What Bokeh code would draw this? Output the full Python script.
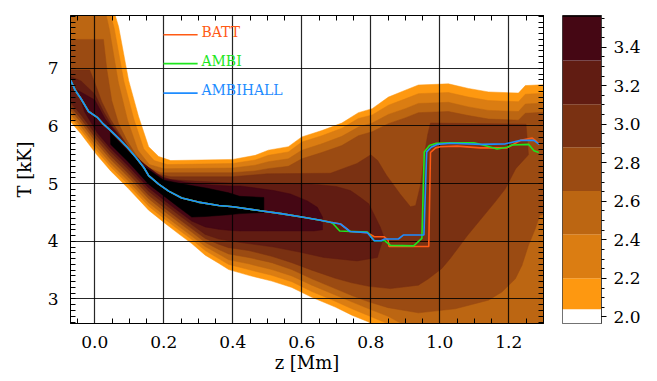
from bokeh.plotting import figure
from bokeh.models import Range1d, LinearAxis, FixedTicker, PrintfTickFormatter
from bokeh.layouts import row
from bokeh.embed import file_html
from bokeh.resources import INLINE
from bokeh.core.properties import value

FONT = "DejaVu Serif"

# ---------------- data ----------------
# contour levels of the colour scale (log10 of counts)
level_edges = [1.966, 2.040, 2.201, 2.429, 2.653, 2.880, 3.103, 3.331, 3.564]
level_colors = ["#ffffff", "#fe9810", "#db7d12", "#bc6612", "#9b4b12",
                "#7a3112", "#611c12", "#450714"]
core_color = "#000000"
cbar_ticks = [2.0, 2.2, 2.4, 2.6, 2.8, 3.0, 3.2, 3.4]

# filled-contour regions (z [Mm], T [kK]) for each level, outermost first
lev1_z = [-0.08, 0.055, 0.069, 0.098, 0.127, 0.156, 0.185, 0.22, 0.40, 0.465, 0.503, 0.561, 0.60, 0.658, 0.716, 0.764, 0.804, 0.851, 0.90, 0.938, 1.025, 1.083, 1.141, 1.228, 1.248, 1.35,
          1.35, 0.82,
          0.81, 0.794, 0.745, 0.697, 0.629, 0.571, 0.513, 0.446, 0.388, 0.359, 0.320, 0.281, 0.243, 0.204, 0.156, 0.098, 0.046, 0.007, -0.041, -0.08]
lev1_T = [8.0, 8.0, 7.72, 6.79, 6.16, 5.64, 5.47, 5.40, 5.42, 5.49, 5.58, 5.64, 5.81, 5.92, 6.05, 6.23, 6.30, 6.50, 6.62, 6.71, 6.73, 6.65, 6.59, 6.57, 6.70, 6.73,
          2.0, 2.0,
          2.50, 2.60, 2.72, 2.86, 3.03, 3.20, 3.31, 3.41, 3.51, 3.62, 3.76, 3.96, 4.13, 4.31, 4.54, 4.91, 5.22, 5.49, 5.87, 6.14]

lev2_z = [-0.08, 0.043, 0.056, 0.084, 0.113, 0.142, 0.172, 0.21, 0.40, 0.465, 0.503, 0.561, 0.60, 0.658, 0.716, 0.764, 0.804, 0.851, 0.90, 0.938, 1.025, 1.083, 1.141, 1.228, 1.248, 1.35,
          1.35, 0.86,
          0.85, 0.794, 0.745, 0.697, 0.629, 0.571, 0.513, 0.446, 0.388, 0.359, 0.320, 0.281, 0.243, 0.204, 0.156, 0.098, 0.046, 0.007, -0.041, -0.08]
lev2_T = [8.0, 8.0, 7.70, 6.78, 6.12, 5.60, 5.40, 5.33, 5.35, 5.41, 5.49, 5.55, 5.72, 5.83, 5.96, 6.13, 6.19, 6.36, 6.47, 6.56, 6.58, 6.50, 6.44, 6.42, 6.55, 6.58,
          2.0, 2.0,
          2.57, 2.71, 2.83, 2.96, 3.13, 3.30, 3.41, 3.51, 3.60, 3.70, 3.84, 4.03, 4.20, 4.38, 4.61, 4.98, 5.29, 5.56, 5.94, 6.21]

lev3_z = [-0.08, 0.030, 0.042, 0.068, 0.095, 0.125, 0.158, 0.20, 0.40, 0.465, 0.503, 0.561, 0.60, 0.658, 0.716, 0.764, 0.804, 0.851, 0.90, 0.938, 1.025, 1.083, 1.141, 1.228, 1.248, 1.35,
          1.35, 0.90,
          0.89, 0.85, 0.794, 0.745, 0.697, 0.629, 0.571, 0.513, 0.446, 0.388, 0.359, 0.320, 0.281, 0.243, 0.204, 0.156, 0.098, 0.046, 0.007, -0.041, -0.08]
lev3_T = [8.0, 8.0, 7.68, 6.76, 6.10, 5.58, 5.33, 5.26, 5.27, 5.32, 5.38, 5.43, 5.58, 5.69, 5.82, 5.98, 6.05, 6.20, 6.30, 6.39, 6.41, 6.33, 6.27, 6.25, 6.38, 6.41,
          2.0, 2.0,
          2.57, 2.70, 2.83, 2.95, 3.07, 3.24, 3.40, 3.51, 3.61, 3.68, 3.78, 3.91, 4.09, 4.26, 4.44, 4.67, 5.04, 5.35, 5.62, 6.00, 6.27]

lev4_z = [-0.08, 0.025, 0.035, 0.049, 0.069, 0.093, 0.117, 0.146, 0.19, 0.40, 0.465, 0.503, 0.561, 0.60, 0.658, 0.716, 0.764, 0.804, 0.851, 0.90, 0.938, 1.025, 1.083, 1.141, 1.228, 1.248, 1.35,
          1.35, 1.29, 1.277, 1.257, 1.238, 1.219, 1.18, 1.141, 1.045, 0.938, 0.85,
          0.794, 0.745, 0.697, 0.629, 0.571, 0.513, 0.446, 0.388, 0.359, 0.320, 0.281, 0.243, 0.204, 0.156, 0.098, 0.046, 0.007, -0.041, -0.08]
lev4_T = [7.50, 7.50, 6.97, 6.44, 6.04, 5.75, 5.52, 5.30, 5.19, 5.19, 5.22, 5.26, 5.30, 5.43, 5.54, 5.66, 5.83, 5.90, 6.04, 6.14, 6.23, 6.25, 6.18, 6.12, 6.10, 6.22, 6.25,
          4.55, 4.45, 4.22, 3.93, 3.58, 3.35, 3.12, 2.98, 2.83, 2.76, 2.85,
          2.95, 3.06, 3.18, 3.35, 3.51, 3.63, 3.72, 3.78, 3.86, 3.98, 4.16, 4.33, 4.51, 4.74, 5.11, 5.42, 5.69, 6.07, 6.34]

lev5_z = [-0.08, -0.015, 0.0, 0.02, 0.045, 0.07, 0.10, 0.13, 0.17, 0.22, 0.40, 0.50, 0.683, 0.76, 0.80, 0.82, 0.845, 0.885, 0.915, 0.93, 0.945, 0.955, 0.965, 0.973, 1.25,
          1.257, 1.22, 1.19, 1.16, 1.12, 1.08, 1.03, 1.006, 0.967, 0.938, 0.857,
          0.794, 0.745, 0.697, 0.629, 0.571, 0.513, 0.446, 0.388, 0.359, 0.320, 0.281, 0.243, 0.204, 0.156, 0.098, 0.046, 0.007, -0.041, -0.08]
lev5_T = [6.97, 6.97, 6.75, 6.42, 6.12, 5.88, 5.60, 5.38, 5.18, 5.12, 5.12, 5.17, 5.18, 5.35, 5.50, 5.40, 5.15, 4.82, 4.60, 4.62, 5.00, 5.50, 5.85, 6.05, 6.03,
          5.50, 5.26, 4.91, 4.68, 4.39, 4.10, 3.70, 3.53, 3.35, 3.24, 3.18,
          3.22, 3.28, 3.36, 3.50, 3.63, 3.74, 3.84, 3.89, 3.95, 4.05, 4.22, 4.39, 4.57, 4.80, 5.17, 5.48, 5.75, 6.13, 6.40]

lev6_z = [-0.08, -0.04, 0.0, 0.025, 0.05, 0.08, 0.11, 0.14, 0.18, 0.22, 0.30, 0.40, 0.62, 0.70, 0.741, 0.77, 0.794, 0.809, 0.828, 0.838,
          0.828, 0.819, 0.76, 0.664, 0.596, 0.519, 0.422, 0.388, 0.359, 0.320, 0.281, 0.243, 0.204, 0.156, 0.098, 0.046, 0.007, -0.041, -0.08]
lev6_T = [6.88, 6.78, 6.55, 6.25, 6.00, 5.78, 5.52, 5.36, 5.15, 5.07, 5.04, 5.01, 5.00, 4.95, 4.88, 4.76, 4.65, 4.47, 4.24, 4.07,
          3.90, 3.72, 3.66, 3.72, 3.81, 3.90, 3.98, 4.01, 4.04, 4.12, 4.29, 4.46, 4.64, 4.87, 5.24, 5.55, 5.82, 6.20, 6.47]

lev7_z = [-0.05, 0.0, 0.03, 0.06, 0.094, 0.142, 0.20, 0.268, 0.326, 0.388, 0.422, 0.519, 0.567, 0.616, 0.645, 0.66,
          0.66, 0.635, 0.50, 0.422, 0.388, 0.359, 0.320, 0.281, 0.243, 0.204, 0.156, 0.098, 0.046, 0.007, -0.03]
lev7_T = [6.62, 6.45, 6.12, 5.90, 5.62, 5.34, 5.09, 5.02, 4.98, 4.96, 4.96, 4.88, 4.82, 4.70, 4.59, 4.42,
          4.20, 4.18, 4.18, 4.18, 4.19, 4.21, 4.25, 4.35, 4.52, 4.70, 4.93, 5.30, 5.61, 5.88, 6.25]

core_z = [0.045, 0.094, 0.142, 0.20, 0.268, 0.326, 0.388, 0.42, 0.49,
          0.49, 0.42, 0.388, 0.320, 0.281, 0.243, 0.204, 0.156, 0.098, 0.046]
core_T = [5.88, 5.58, 5.30, 5.06, 4.98, 4.92, 4.84, 4.78, 4.76,
          4.50, 4.48, 4.46, 4.43, 4.42, 4.59, 4.77, 4.99, 5.37, 5.68]

# mean temperature curves
common_z = [-0.07, -0.057, -0.041, -0.018, 0.007, 0.025, 0.046, 0.07, 0.094, 0.12, 0.142, 0.156, 0.185, 0.214, 0.252, 0.30, 0.359, 0.40, 0.48, 0.54, 0.60, 0.65, 0.683]
common_T = [6.79, 6.62, 6.48, 6.25, 6.15, 6.03, 5.92, 5.78, 5.63, 5.45, 5.28, 5.14, 4.99, 4.87, 4.75, 4.68, 4.62, 4.60, 4.53, 4.48, 4.42, 4.37, 4.33]

batt_z = common_z + [0.712, 0.74, 0.79, 0.81, 0.838, 0.85, 0.853, 0.968, 0.973, 0.988, 1.002, 1.05, 1.118, 1.195, 1.234, 1.268, 1.277, 1.288]
batt_T = common_T + [4.30, 4.17, 4.15, 4.08, 4.08, 4.02, 3.91, 3.91, 5.54, 5.62, 5.64, 5.65, 5.62, 5.62, 5.75, 5.79, 5.75, 5.68]

ambi_z = common_z + [0.69, 0.71, 0.79, 0.81, 0.84, 0.857, 0.924, 0.948, 0.955, 0.97, 0.99, 1.03, 1.099, 1.12, 1.166, 1.195, 1.21, 1.258, 1.273, 1.287]
ambi_T = common_T + [4.31, 4.18, 4.16, 4.01, 4.01, 3.93, 3.92, 4.05, 5.55, 5.66, 5.70, 5.71, 5.71, 5.68, 5.60, 5.63, 5.67, 5.68, 5.57, 5.54]

hall_z = common_z + [0.712, 0.74, 0.79, 0.81, 0.83, 0.84, 0.88, 0.895, 0.954, 0.962, 0.975, 0.992, 1.031, 1.12, 1.19, 1.234, 1.273, 1.288]
hall_T = common_T + [4.30, 4.17, 4.15, 4.01, 4.01, 4.04, 4.04, 4.11, 4.11, 5.55, 5.63, 5.68, 5.70, 5.68, 5.69, 5.75, 5.75, 5.68]

series_names = ["BATT", "AMBI", "AMBIHALL"]
series_colors = ["#ff5a14", "#1ee61e", "#1e8cff"]
legend_T = [7.58, 7.08, 6.57]
legend_z = [0.199, 0.298, 0.309]

x_ticks = [0.0, 0.2, 0.4, 0.6, 0.8, 1.0, 1.2]
x_minor = [-0.05, 0.05, 0.1, 0.15, 0.25, 0.3, 0.35, 0.45, 0.5, 0.55, 0.65, 0.7, 0.75, 0.85, 0.9, 0.95, 1.05, 1.1, 1.15, 1.25, 1.3]
y_ticks = [3, 4, 5, 6, 7]
y_minor = [round(2.6 + 0.1 * i, 1) for i in range(54)]
cb_minor = [round(1.95 + 0.05 * i, 2) for i in range(33)]
x_title = "z [Mm]"
y_title = "T [kK]"

# ---------------- main figure ----------------
p = figure(width=549, height=381, output_backend="svg", toolbar_location=None,
           x_range=Range1d(-0.0705, 1.3006), y_range=Range1d(2.575, 7.915),
           min_border_left=70, min_border_right=6, min_border_top=15, min_border_bottom=58,
           x_axis_label=x_title, y_axis_label=y_title)
p.outline_line_color = "black"
p.outline_line_width = 1

regions = [(lev1_z, lev1_T, level_colors[1]), (lev2_z, lev2_T, level_colors[2]),
           (lev3_z, lev3_T, level_colors[3]), (lev4_z, lev4_T, level_colors[4]),
           (lev5_z, lev5_T, level_colors[5]), (lev6_z, lev6_T, level_colors[6]),
           (lev7_z, lev7_T, level_colors[7]), (core_z, core_T, core_color)]
for zz, tt, col in regions:
    r = p.patch(zz, tt, fill_color=col, line_color=col, line_width=0.5)
    r.level = "image"

for zz, tt, col in [(batt_z, batt_T, series_colors[0]), (ambi_z, ambi_T, series_colors[1]),
                    (hall_z, hall_T, series_colors[2])]:
    p.line(zz, tt, line_color=col, line_width=1.6)

# legend drawn in data space
for name, col, t in zip(series_names, series_colors, legend_T):
    p.line([legend_z[0], legend_z[1]], [t, t], line_color=col, line_width=1.6)
p.text(x=[legend_z[2]] * 3, y=legend_T, text=series_names, text_color=series_colors,
       text_font=value(FONT), text_font_size="14px", text_baseline="middle", y_offset=-3)

# axes
def style_axis(ax, major, minor, fmt, labels=True):
    ax.ticker = FixedTicker(ticks=major, minor_ticks=minor)
    ax.major_tick_in = 0
    ax.major_tick_out = 0
    ax.minor_tick_in = 5
    ax.minor_tick_out = 0
    ax.axis_line_color = "black"
    ax.minor_tick_line_color = "black"
    if labels:
        ax.formatter = PrintfTickFormatter(format=fmt)
        ax.major_label_text_font = FONT
        ax.major_label_text_font_size = "17px"
        ax.major_label_text_color = "black"
        ax.axis_label_text_font = FONT
        ax.axis_label_text_font_size = "18px"
        ax.axis_label_text_font_style = "normal"
        ax.axis_label_text_color = "black"
    else:
        ax.major_label_standoff = 0

style_axis(p.xaxis[0], x_ticks, x_minor, "%.1f")
p.xaxis[0].major_label_standoff = 12
p.xaxis[0].axis_label_standoff = 1
style_axis(p.yaxis[0], y_ticks, y_minor, "%d")
p.yaxis[0].major_label_standoff = 12
p.yaxis[0].axis_label_standoff = 10

top_ax = LinearAxis()
style_axis(top_ax, [], x_minor, None, labels=False)
p.add_layout(top_ax, "above")
right_ax = LinearAxis()
style_axis(right_ax, [], y_minor, None, labels=False)
p.add_layout(right_ax, "right")

p.xgrid.ticker = FixedTicker(ticks=x_ticks)
p.ygrid.ticker = FixedTicker(ticks=y_ticks)
p.grid.grid_line_color = "black"
p.grid.grid_line_alpha = 0.85
p.grid.grid_line_width = 1.2

# ---------------- colour bar ----------------
cb = figure(width=97, height=381, output_backend="svg", toolbar_location=None,
            x_range=Range1d(0, 1), y_range=Range1d(level_edges[0], level_edges[-1]),
            x_axis_location=None, y_axis_location="right",
            min_border_left=13, min_border_right=45, min_border_top=15, min_border_bottom=58)
cb.grid.visible = False
cb.outline_line_color = "#444444"
cb.quad(left=0, right=1, bottom=level_edges[:-1], top=level_edges[1:],
        fill_color=level_colors, line_color=None)
cb.line([0, 1], [level_edges[-1], level_edges[-1]], line_color="black", line_width=2.5)
ya = cb.yaxis[0]
ya.ticker = FixedTicker(ticks=cbar_ticks, minor_ticks=cb_minor)
ya.formatter = PrintfTickFormatter(format="%.1f")
ya.major_tick_in = 0
ya.major_tick_out = 5
ya.minor_tick_in = 0
ya.minor_tick_out = 3
ya.axis_line_color = "#444444"
ya.major_label_standoff = 7
ya.major_label_text_font = FONT
ya.major_label_text_font_size = "17px"
ya.major_label_text_color = "black"

layout = row(p, cb)
open("out.html", "w").write(file_html(layout, INLINE))
